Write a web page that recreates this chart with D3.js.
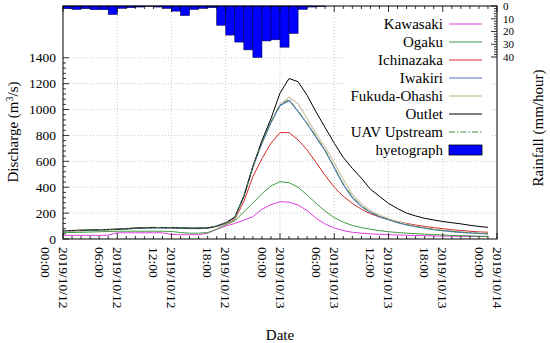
<!DOCTYPE html>
<html><head><meta charset="utf-8">
<script src="https://cdn.jsdelivr.net/npm/d3@7"></script>
<style>body{margin:0;background:#fff}svg{display:block}text{font-family:"Liberation Serif","Times New Roman",serif;fill:#000}</style>
</head><body><svg id="c" width="550" height="343"></svg>
<script>
// ---------- data ----------
const startTime = new Date(Date.UTC(2019, 9, 12, 0));
const endTime = new Date(Date.UTC(2019, 9, 14, 0));
const kawasaki = [28,28,28,28,28,30,48,48,48,48,48,48,35,33,33,33,45,75,100,120,145,172,230,265,288,285,262,220,160,115,85,65,52,45,40,36,33,31,29,27,25,24,23,22,21,20,19,18];
const ogaku = [49,50,52,54,56,58,60,60,60,60,60,60,58,50,45,45,50,75,110,140,210,278,350,410,443,435,400,340,275,215,165,130,105,88,75,65,56,50,45,41,37,34,31,28,26,24,22,20];
const ichinazaka = [60,62,64,66,68,70,74,78,84,88,90,88,84,82,80,80,84,96,120,150,290,482,620,740,822,822,766,688,590,490,400,330,275,230,195,170,150,135,120,108,97,88,80,72,66,60,55,52];
const iwakiri = [62,64,66,68,70,72,75,78,82,85,86,86,85,84,82,82,84,98,125,165,330,560,740,900,1030,1070,985,890,785,680,550,420,320,250,205,172,148,126,108,95,83,72,64,57,51,46,42,39];
const fukuda = [63,65,67,69,71,73,76,79,83,86,87,87,86,85,83,83,85,99,125,160,320,550,740,900,1040,1096,1045,930,810,710,590,460,345,270,220,185,158,134,115,100,87,76,68,61,55,50,46,43];
const outlet = [65,66,68,70,72,74,76,80,84,86,88,88,88,86,84,84,86,100,125,170,330,560,760,930,1127,1240,1215,1110,980,860,740,630,545,470,385,330,275,235,200,178,160,147,135,126,117,106,97,90];
const uavUpstream = [64,66,68,70,72,74,77,80,84,87,88,88,87,86,84,84,86,100,126,166,332,562,745,905,1035,1078,990,895,790,685,555,426,326,255,210,176,151,129,111,97,85,74,66,59,53,48,44,41];
const rainfall = [2.1,2.6,2.1,2.9,2.9,6.6,1.8,1.3,0.8,0.2,0.8,1.8,4.0,7.4,2.6,1.8,1.3,15.1,22.8,28.3,34.4,40.3,27.4,26.5,32.3,21.5,2.6,0.8,0.2];
const dischargeTicks = [0,200,400,600,800,1000,1200,1400];
const rainTicks = [0,10,20,30,40];
const seriesNames = ["Kawasaki","Ogaku","Ichinazaka","Iwakiri","Fukuda-Ohashi","Outlet","UAV Upstream"];

// ---------- layout ----------
const L = 63, R = 497, T = 6, B = 239;
const svg = d3.select("#c");
const hourMs = 3600e3;
const tAt = i => new Date(startTime.getTime() + i * hourMs);
const x = d3.scaleUtc().domain([startTime, endTime]).range([L, R]);
const y = d3.scaleLinear().domain([0, 1800]).range([B, T]);
const yr = d3.scaleLinear().domain([0, 182.8]).range([T, B]);

// grid
const majorTimes = d3.range(0, 49, 6).map(tAt);
svg.append("g").selectAll("line").data(majorTimes.slice(1, -1)).join("line")
  .attr("x1", d => x(d)).attr("x2", d => x(d)).attr("y1", T).attr("y2", B)
  .attr("stroke", "#bbb").attr("stroke-width", 0.8).attr("stroke-dasharray", "1,2");
svg.append("g").selectAll("line").data(dischargeTicks.slice(1)).join("line")
  .attr("x1", L).attr("x2", R).attr("y1", d => y(d)).attr("y2", d => y(d))
  .attr("stroke", "#bbb").attr("stroke-width", 0.8).attr("stroke-dasharray", "1,2");

// legend background
svg.append("rect").attr("x", 345).attr("y", 11).attr("width", 146).attr("height", 147).attr("fill", "#fff");

// rain bars
svg.append("g").selectAll("rect").data(rainfall).join("rect")
  .attr("x", (d, i) => x(tAt(i))).attr("y", T)
  .attr("width", (d, i) => x(tAt(i + 1)) - x(tAt(i)))
  .attr("height", d => yr(d) - T)
  .attr("fill", "#0000ff").attr("stroke", "#00005a").attr("stroke-width", 0.6);

// lines
const styles = [
  {c: "#e03ce0", w: 1, dash: null},
  {c: "#3f993f", w: 1, dash: null},
  {c: "#d42a2a", w: 1, dash: null},
  {c: "#4a76c8", w: 1.1, dash: null},
  {c: "#d6c8ad", w: 1.3, dash: null},
  {c: "#000000", w: 1, dash: null},
  {c: "#4c8a4c", w: 1, dash: "6,2,1.5,2"}
];
const data = [kawasaki, ogaku, ichinazaka, iwakiri, fukuda, outlet, uavUpstream];
const line = d3.line().x((d, i) => x(tAt(i))).y(d => y(d));
const drawOrder = [0, 1, 2, 4, 3, 5, 6];
drawOrder.forEach(k => {
  svg.append("path").datum(data[k]).attr("d", line).attr("fill", "none")
    .attr("stroke", styles[k].c).attr("stroke-width", styles[k].w)
    .attr("stroke-dasharray", styles[k].dash);
});

// frame
svg.append("rect").attr("x", L).attr("y", T).attr("width", R - L).attr("height", B - T)
  .attr("fill", "none").attr("stroke", "#000").attr("stroke-width", 1);

// x ticks (bottom & top, inward)
const allHours = d3.range(0, 49).map(tAt);
const tk = svg.append("g").attr("stroke", "#000").attr("stroke-width", 0.8);
allHours.forEach((d, i) => {
  const len = i % 6 === 0 ? 6 : 3;
  tk.append("line").attr("x1", x(d)).attr("x2", x(d)).attr("y1", B).attr("y2", B - len);
  tk.append("line").attr("x1", x(d)).attr("x2", x(d)).attr("y1", T).attr("y2", T + len);
});
// left ticks
d3.range(0, 1401, 40).forEach(v => {
  const len = v % 200 === 0 ? 6 : 3;
  tk.append("line").attr("x1", L).attr("x2", L + len).attr("y1", y(v)).attr("y2", y(v));
});
// right rain ticks
d3.range(0, 41, 2).forEach(v => {
  const len = v % 10 === 0 ? 6 : 3;
  tk.append("line").attr("x1", R).attr("x2", R - len).attr("y1", yr(v)).attr("y2", yr(v));
});

// tick labels
const fmtT = d3.utcFormat("%H:%M"), fmtD = d3.utcFormat("%Y/%m/%d");
const xl = svg.append("g").style("font-size", "13.5px");
majorTimes.forEach(d => {
  const px = x(d);
  xl.append("text").attr("transform", `translate(${px},247) rotate(90)`)
    .attr("dominant-baseline", "central").text(fmtD(d));
  xl.append("text").attr("transform", `translate(${px - 18},247) rotate(90)`)
    .attr("dominant-baseline", "central").text(fmtT(d));
});
svg.append("g").style("font-size", "13.5px").selectAll("text").data(dischargeTicks).join("text")
  .attr("x", 56).attr("y", d => y(d)).attr("dominant-baseline", "central")
  .attr("text-anchor", "end").text(d => d);
svg.append("g").style("font-size", "11px").selectAll("text").data(rainTicks).join("text")
  .attr("x", 503).attr("y", d => yr(d)).attr("dominant-baseline", "central").text(d => d);

// axis titles
svg.append("text").attr("x", 280).attr("y", 340).attr("text-anchor", "middle")
  .style("font-size", "15px").text("Date");
const yt = svg.append("text").attr("transform", "translate(18,132) rotate(-90)")
  .attr("text-anchor", "middle").style("font-size", "15px");
yt.append("tspan").text("Discharge (m");
yt.append("tspan").attr("dy", -5).style("font-size", "10px").text("3");
yt.append("tspan").attr("dy", 5).text("/s)");
svg.append("text").attr("transform", "translate(543,128) rotate(-90)")
  .attr("text-anchor", "middle").style("font-size", "15px").text("Rainfall (mm/hour)");

// legend
const lg = svg.append("g").style("font-size", "15px");
seriesNames.forEach((n, k) => {
  const yy = 24 + k * 18;
  lg.append("text").attr("x", 443).attr("y", yy).attr("text-anchor", "end")
    .attr("dominant-baseline", "central").text(n);
  lg.append("line").attr("x1", 449).attr("x2", 482).attr("y1", yy).attr("y2", yy)
    .attr("stroke", styles[k].c).attr("stroke-width", styles[k].w)
    .attr("stroke-dasharray", styles[k].dash);
});
const yh = 24 + 7 * 18;
lg.append("text").attr("x", 443).attr("y", yh).attr("text-anchor", "end")
  .attr("dominant-baseline", "central").text("hyetograph");
lg.append("rect").attr("x", 449).attr("y", yh - 5).attr("width", 33).attr("height", 10)
  .attr("fill", "#0000ff").attr("stroke", "#000").attr("stroke-width", 0.8);
</script></body></html>
